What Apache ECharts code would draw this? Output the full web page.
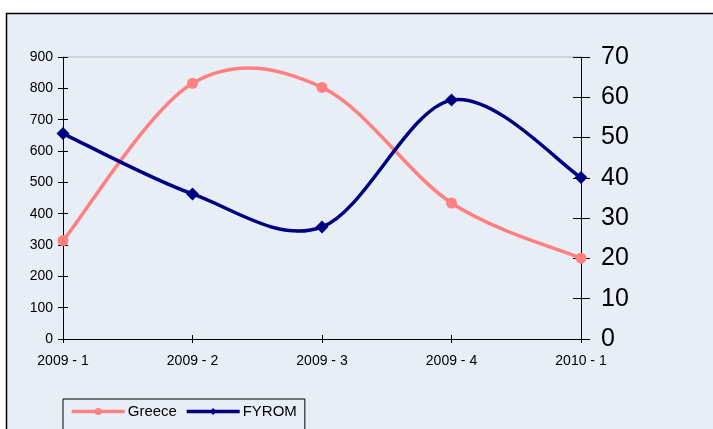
<!DOCTYPE html>
<html><head><meta charset="utf-8">
<script src="https://cdn.jsdelivr.net/npm/echarts@6/dist/echarts.min.js"></script>
<style>html,body{margin:0;padding:0;background:#fff}#c{width:713px;height:429px}</style>
</head><body><div id="c"></div>
<script>
const categories = ['2009 - 1','2009 - 2','2009 - 3','2009 - 4','2010 - 1'];
const greece = [314, 816, 803, 434, 258];
const fyrom = [51, 36, 27.8, 59.3, 40.1];
const leftTicks = [0, 900, 100];
const rightTicks = [0, 70, 10];

const GREECE_COLOR = '#FF8080';
const FYROM_COLOR = '#000080';

// Excel-style smoothed curve through the data points (Catmull-Rom, tension 1/6)
function smoothRenderer(values, color) {
  return function (params, api) {
    if (params.dataIndex !== 0) return null;
    const pts = values.map((v, i) => api.coord([i, v]));
    const n = pts.length;
    const children = [];
    for (let i = 0; i < n - 1; i++) {
      const p0 = pts[Math.max(i - 1, 0)], p1 = pts[i], p2 = pts[i + 1], p3 = pts[Math.min(i + 2, n - 1)];
      children.push({
        type: 'bezierCurve',
        shape: {
          x1: p1[0], y1: p1[1], x2: p2[0], y2: p2[1],
          cpx1: p1[0] + (p2[0] - p0[0]) / 6, cpy1: p1[1] + (p2[1] - p0[1]) / 6,
          cpx2: p2[0] - (p3[0] - p1[0]) / 6, cpy2: p2[1] - (p3[1] - p1[1]) / 6
        },
        style: {stroke: color, lineWidth: 3.5, fill: null, lineCap: 'round', lineJoin: 'round'}
      });
    }
    return {type: 'group', children: children};
  };
}

const chart = echarts.init(document.getElementById('c'));
const font = 'Liberation Sans, Arial, sans-serif';
chart.setOption({
  animation: false,
  textStyle: {fontFamily: font},
  graphic: [{type:'rect', z:-10, shape:{x:6.5,y:13.5,width:720,height:430}, style:{fill:'#E8EEF5', stroke:'#000', lineWidth:1.5}}],
  grid: {left:63, right:132, top:57, bottom:90},
  legend: {
    left: 63, top: 399, padding:[5,8,12,7], borderColor:'#000', borderWidth:1,
    itemWidth: 53, itemHeight: 9, itemGap: 8,
    textStyle:{fontSize:15, color:'#000', fontFamily:font, padding:[0,0,0,-2]},
    data:[
      {name:'Greece', lineStyle:{color:GREECE_COLOR, width:3.5, opacity:1}, itemStyle:{color:GREECE_COLOR}},
      {name:'FYROM', lineStyle:{color:FYROM_COLOR, width:3.5, opacity:1}, itemStyle:{color:FYROM_COLOR}}
    ]
  },
  xAxis: [
    {type:'category', data:categories, boundaryGap:false,
     axisLine:{onZero:false, lineStyle:{color:'#000', width:1}},
     axisTick:{inside:false, length:4, lineStyle:{color:'#000'}},
     axisLabel:{color:'#000', fontSize:14, margin:15, fontFamily:font}},
    {type:'category', data:categories, boundaryGap:false, position:'bottom',
     axisLine:{show:false, onZero:false}, axisTick:{inside:true, length:4, lineStyle:{color:'#000'}}, axisLabel:{show:false}},
    {type:'category', data:categories, boundaryGap:false, position:'top',
     axisLine:{onZero:false, lineStyle:{color:'#C8CCD0', width:1.5}}, axisTick:{show:false}, axisLabel:{show:false}}
  ],
  yAxis: [
    {type:'value', min:leftTicks[0], max:leftTicks[1], interval:leftTicks[2], position:'left',
     axisLine:{show:true, onZero:false, lineStyle:{color:'#000'}},
     axisTick:{show:true, length:5, lineStyle:{color:'#000'}},
     splitLine:{show:false},
     axisLabel:{color:'#000', fontSize:14, margin:10, fontFamily:font}},
    {type:'value', min:rightTicks[0], max:rightTicks[1], interval:rightTicks[2], position:'right',
     axisLine:{show:true, onZero:false, lineStyle:{color:'#000'}},
     axisTick:{show:true, length:9, lineStyle:{color:'#000'}},
     splitLine:{show:false},
     axisLabel:{color:'#000', fontSize:25, margin:20, fontFamily:font}},
    {type:'value', min:leftTicks[0], max:leftTicks[1], interval:leftTicks[2], position:'left',
     axisLine:{show:false}, axisTick:{show:true, inside:true, length:5, lineStyle:{color:'#000'}},
     splitLine:{show:false}, axisLabel:{show:false}},
    {type:'value', min:rightTicks[0], max:rightTicks[1], interval:rightTicks[2], position:'right',
     axisLine:{show:false}, axisTick:{show:true, inside:true, length:8, lineStyle:{color:'#000'}},
     splitLine:{show:false}, axisLabel:{show:false}}
  ],
  series: [
    {name:'GreeceCurve', type:'custom', yAxisIndex:0, data:greece.map((v,i)=>[i,v]),
     encode:{x:0,y:1}, renderItem: smoothRenderer(greece, GREECE_COLOR), z:2, silent:true},
    {name:'FYROMCurve', type:'custom', yAxisIndex:1, data:fyrom.map((v,i)=>[i,v]),
     encode:{x:0,y:1}, renderItem: smoothRenderer(fyrom, FYROM_COLOR), z:2, silent:true},
    {name:'Greece', type:'line', yAxisIndex:0, data:greece,
     symbol:'circle', symbolSize:11, lineStyle:{color:GREECE_COLOR, width:3.5, opacity:0},
     itemStyle:{color:GREECE_COLOR}, z:4},
    {name:'FYROM', type:'line', yAxisIndex:1, data:fyrom,
     symbol:'diamond', symbolSize:13, lineStyle:{color:FYROM_COLOR, width:3.5, opacity:0},
     itemStyle:{color:FYROM_COLOR}, z:4}
  ]
});
</script></body></html>
